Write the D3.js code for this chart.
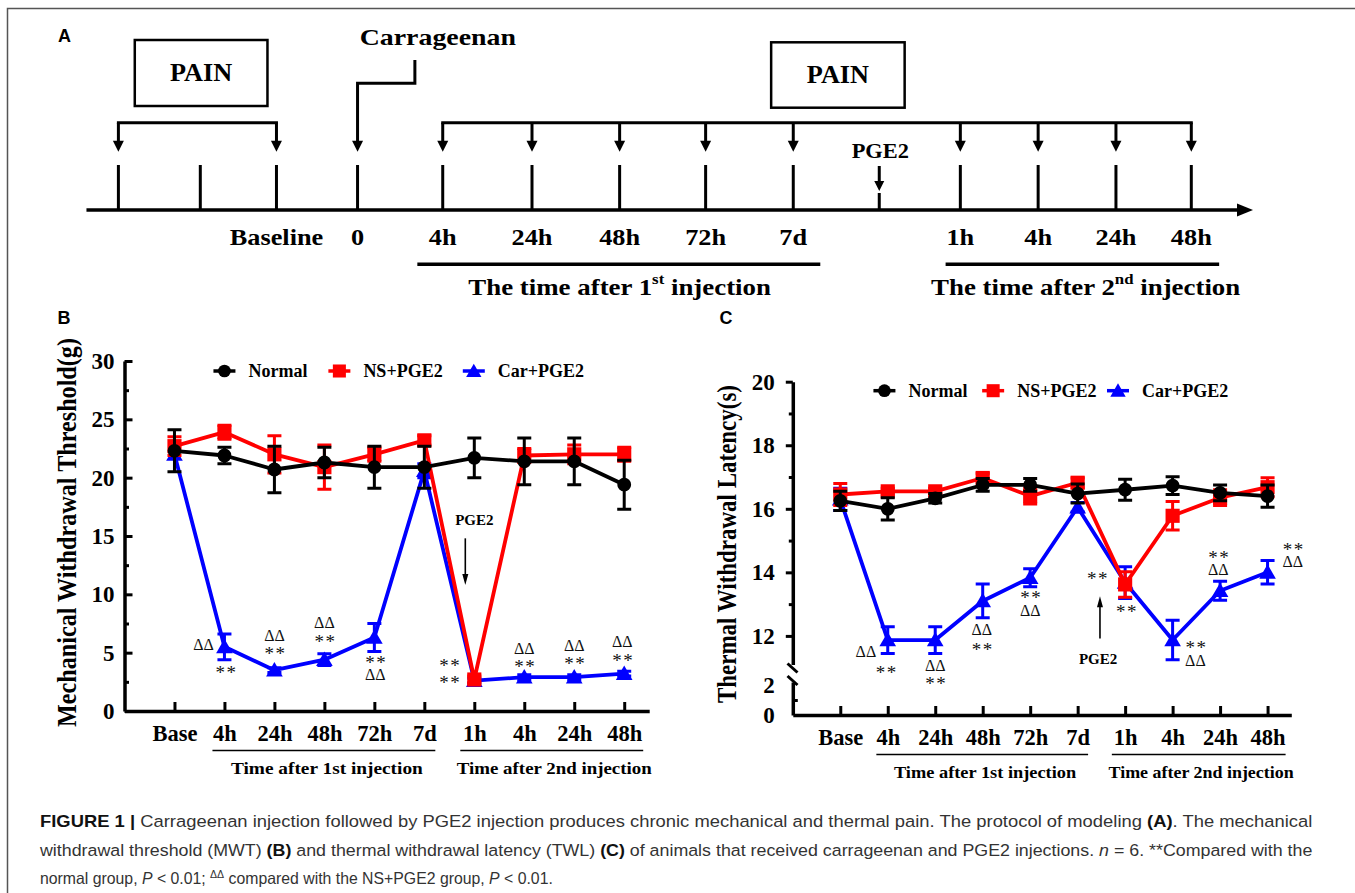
<!DOCTYPE html>
<html>
<head>
<meta charset="utf-8">
<script src="https://cdn.jsdelivr.net/npm/d3@7"></script>
<style>
  body { margin: 0; background: #fff; }
  svg { display: block; }
</style>
</head>
<body>
<div id="figure"></div>
<script>

// ---- data ----
var categories = ["Base", "4h", "24h", "48h", "72h", "7d", "1h", "4h", "24h", "48h"];
var groupNames = ["Normal", "NS+PGE2", "Car+PGE2"];
var injectionGroups = ["Time after 1st injection", "Time after 2nd injection"];

// mechanical withdrawal threshold (g)
var mwtNormal = [22.3, 21.9, 20.7, 21.3, 20.9, 20.9, 21.7, 21.4, 21.4, 19.4];
var mwtNormalErr = [1.8, 0.7, 2.0, 1.3, 1.8, 1.8, 1.7, 2.0, 2.0, 2.1];
var mwtNS = [22.7, 23.9, 22.0, 20.9, 22.0, 23.2, 2.7, 21.9, 22.0, 22.0];
var mwtNSErr = [0.8, 0.6, 1.6, 1.9, 0.6, 0.4, 0.3, 0.6, 0.8, 0.6];
var mwtCar = [22.0, 5.5, 3.5, 4.4, 6.3, 20.6, 2.6, 2.9, 2.9, 3.2];
var mwtCarErr = [0, 1.1, 0.2, 0.5, 1.2, 0.6, 0.2, 0.2, 0.2, 0.2];
var mwtTicks = [0, 5, 10, 15, 20, 25, 30];
// [category position, value, mark]
var mwtMarks = [
  [0.58, 5.66, "ΔΔ"], [1.02, 3.5, "**"], [2, 6.43, "ΔΔ"], [2, 5.14, "**"],
  [3, 7.57, "ΔΔ"], [3, 6.15, "**"], [4.02, 4.4, "**"], [4.02, 3.12, "ΔΔ"],
  [5.5, 4.09, "**"], [5.5, 2.66, "**"], [7, 5.35, "ΔΔ"], [7, 4.05, "**"],
  [8, 5.58, "ΔΔ"], [8, 4.27, "**"], [8.96, 5.9, "ΔΔ"], [8.96, 4.57, "**"]
];

// thermal withdrawal latency (s)
var twlNormal = [16.25, 16.0, 16.33, 16.75, 16.75, 16.48, 16.6, 16.73, 16.5, 16.4];
var twlNormalErr = [0.3, 0.35, 0.15, 0.2, 0.2, 0.3, 0.33, 0.28, 0.25, 0.35];
var twlNS = [16.45, 16.55, 16.55, 16.97, 16.4, 16.82, 13.62, 15.78, 16.35, 16.68];
var twlNSErr = [0.35, 0.1, 0.1, 0.15, 0.25, 0.15, 0.4, 0.45, 0.25, 0.3];
var twlCar = [16.3, 11.87, 11.87, 13.1, 13.83, 16.05, 13.68, 11.87, 13.42, 14.0];
var twlCarErr = [0.35, 0.42, 0.42, 0.53, 0.28, 0.15, 0.5, 0.62, 0.3, 0.37];
var twlTicksUpper = [12, 14, 16, 18, 20];
var twlTicksLower = [0, 2];
var twlMarks = [
  [0.54, 11.5, "ΔΔ"], [0.96, 10.94, "**"], [2, 11.05, "ΔΔ"], [2, 10.57, "**"],
  [2.98, 12.18, "ΔΔ"], [2.98, 11.65, "**"], [4, 13.27, "**"], [4, 12.79, "ΔΔ"],
  [5.41, 13.88, "**"], [6.02, 12.83, "**"], [7.48, 11.7, "**"], [7.48, 11.22, "ΔΔ"],
  [7.96, 14.54, "**"], [7.96, 14.07, "ΔΔ"], [9.53, 14.8, "**"], [9.53, 14.33, "ΔΔ"]
];

// protocol timeline (panel A)
var timelineLabels = ["", "", "Baseline", "0", "4h", "24h", "48h", "72h", "7d", "", "1h", "4h", "24h", "48h"];
var timelineSlots = [0, 1, 1.93, 2.92, 3.96, 5.05, 6.12, 7.17, 8.24, 9.29, 10.28, 11.23, 12.18, 13.1];
var baselineTests = [0, 2];
var painTests = [4, 5, 6, 7, 8, 10, 11, 12, 13];
var carrageenanAt = 3;
var pge2At = 9;

var serif = "'Liberation Serif', 'Times New Roman', serif";
var sans = "'Liberation Sans', Arial, sans-serif";
var colors = ["#000000", "#ff0000", "#0000ff"];

var svg = d3.select("#figure")
  .append("svg")
  .attr("width", 1355)
  .attr("height", 893);

// figure frame
svg.append("path")
  .attr("d", "M7.5,893 L7.5,8.5 L1355,8.5")
  .attr("fill", "none")
  .attr("stroke", "#555")
  .attr("stroke-width", 1.5);

function panelLetter(x, y, s) {
  svg.append("text")
    .attr("x", x).attr("y", y)
    .attr("font-family", sans)
    .attr("font-weight", "bold")
    .attr("font-size", 18)
    .attr("text-anchor", "middle")
    .attr("dominant-baseline", "central")
    .text(s);
}
panelLetter(64.5, 36, "A");
panelLetter(64, 318, "B");
panelLetter(726, 318, "C");

function arrowHead(g, x, y, dir, w, h) {
  // dir: 1 = points down, -1 = points up, tip at (x, y)
  g.append("path")
    .attr("d", "M" + x + "," + y + " L" + (x - w / 2) + "," + (y - dir * h) + " L" + (x + w / 2) + "," + (y - dir * h) + " Z")
    .attr("fill", "#000");
}

// ---------- panel A ----------
(function () {
  var g = svg.append("g");
  var sx = 1.12;
  var x = d3.scaleLinear().domain([0, 13.1]).range([118.4, 1191.3]);
  var lineY = 210, tickTop = 165, bracketY = 122.7, arrowTip = 151.7;

  function label(px, py, s, size, stretch) {
    return g.append("text")
      .attr("transform", "translate(" + px + "," + py + ") scale(" + (stretch || sx) + ",1)")
      .attr("font-family", serif)
      .attr("font-weight", "bold")
      .attr("font-size", size)
      .attr("text-anchor", "middle")
      .attr("dominant-baseline", "central")
      .text(s);
  }

  // main time line with arrow
  g.append("line")
    .attr("x1", x(-0.39)).attr("x2", 1240)
    .attr("y1", lineY).attr("y2", lineY)
    .attr("stroke", "#000").attr("stroke-width", 3.5);
  g.append("path")
    .attr("d", "M1253," + lineY + " L1237," + (lineY - 6.5) + " L1237," + (lineY + 6.5) + " Z")
    .attr("fill", "#000");

  // ticks
  timelineSlots.forEach(function (s, i) {
    var top = i === pge2At ? 193 : tickTop;
    g.append("line")
      .attr("x1", x(s)).attr("x2", x(s))
      .attr("y1", top).attr("y2", lineY)
      .attr("stroke", "#000").attr("stroke-width", 3);
    if (timelineLabels[i]) label(x(s), 237.3, timelineLabels[i], 23.5);
  });

  // test brackets
  [baselineTests, painTests].forEach(function (set) {
    var x0 = x(timelineSlots[set[0]]), x1 = x(timelineSlots[set[set.length - 1]]);
    g.append("line")
      .attr("x1", x0 - 1.5).attr("x2", x1 + 1.5)
      .attr("y1", bracketY).attr("y2", bracketY)
      .attr("stroke", "#000").attr("stroke-width", 3);
    set.forEach(function (k) {
      var px = x(timelineSlots[k]);
      g.append("line")
        .attr("x1", px).attr("x2", px)
        .attr("y1", bracketY).attr("y2", arrowTip - 8)
        .attr("stroke", "#000").attr("stroke-width", 3);
      arrowHead(g, px, arrowTip, 1, 11, 11);
    });
  });

  // carrageenan elbow arrow
  var cx = x(timelineSlots[carrageenanAt]);
  var elbowX = x(3.62);
  g.append("path")
    .attr("d", "M" + elbowX + ",60 L" + elbowX + ",83.3 L" + cx + ",83.3 L" + cx + "," + (arrowTip - 8))
    .attr("fill", "none").attr("stroke", "#000").attr("stroke-width", 3);
  arrowHead(g, cx, arrowTip, 1, 11, 11);
  label(x(3.9), 37, "Carrageenan", 24, 1.16);

  // PGE2 arrow
  var px2 = x(timelineSlots[pge2At]);
  g.append("line")
    .attr("x1", px2).attr("x2", px2).attr("y1", 166).attr("y2", 183)
    .attr("stroke", "#000").attr("stroke-width", 3);
  arrowHead(g, px2, 191, 1, 10, 10);
  label(px2 + 1, 151.7, "PGE2", 20);

  // PAIN boxes
  [[0.2, 1.82, 40, 106], [7.97, 9.6, 42.3, 107.7]].forEach(function (b) {
    g.append("rect")
      .attr("x", x(b[0])).attr("y", b[2])
      .attr("width", x(b[1]) - x(b[0])).attr("height", b[3] - b[2])
      .attr("fill", "none").attr("stroke", "#000").attr("stroke-width", 2.5);
    label((x(b[0]) + x(b[1])) / 2, (b[2] + b[3]) / 2, "PAIN", 25, 1.05);
  });

  // injection periods
  [[3.65, 8.57, 6.12, "1", "st"], [10.1, 13.44, 11.81, "2", "nd"]].forEach(function (p) {
    g.append("line")
      .attr("x1", x(p[0])).attr("x2", x(p[1]))
      .attr("y1", 264.3).attr("y2", 264.3)
      .attr("stroke", "#000").attr("stroke-width", 3.5);
    var t = label(x(p[2]), 286.7, "", 24);
    t.append("tspan").text("The time after " + p[3]);
    t.append("tspan").attr("font-size", 15).attr("dy", -8).text(p[4]);
    t.append("tspan").attr("dy", 8).text(" injection");
  });
})();

// ---------- panels B and C ----------
function drawPanel(cfg) {
  var g = svg.append("g");
  var x = d3.scaleLinear().domain([-1, 9.5]).range([cfg.left, cfg.right]);
  var unit = x(1) - x(0);
  var y = cfg.y;
  var base = cfg.baseY;

  // x axis
  var xAxis = g.append("g")
    .attr("transform", "translate(0," + base + ")")
    .call(d3.axisBottom(x)
      .tickValues(d3.range(categories.length))
      .tickFormat(function (i) { return categories[i]; })
      .tickSize(-9)
      .tickSizeOuter(0)
      .tickPadding(14));
  styleAxis(xAxis, 22.5);

  // y axis
  cfg.yAxes(g, styleAxis);

  // injection period labels
  [[0.76, 5.22, 3.05, 3.84], [5.72, 9.38, 7.6, 3.9]].forEach(function (p, k) {
    g.append("line")
      .attr("x1", x(p[0])).attr("x2", x(p[1]))
      .attr("y1", base + 39.5).attr("y2", base + 39.5)
      .attr("stroke", "#000").attr("stroke-width", 1.6);
    g.append("text")
      .attr("x", x(p[2])).attr("y", base + 57)
      .attr("font-family", serif).attr("font-weight", "bold")
      .attr("font-size", 17)
      .attr("text-anchor", "middle")
      .attr("dominant-baseline", "central")
      .attr("textLength", p[3] * unit)
      .attr("lengthAdjust", "spacingAndGlyphs")
      .text(injectionGroups[k]);
  });

  // axis title
  g.append("text")
    .attr("transform", "translate(" + cfg.titleX + "," + cfg.titleY + ") rotate(-90) scale(1,1.12)")
    .attr("font-family", serif).attr("font-weight", "bold")
    .attr("font-size", 24)
    .attr("text-anchor", "middle")
    .attr("dominant-baseline", "central")
    .attr("textLength", cfg.titleLen)
    .attr("lengthAdjust", "spacingAndGlyphs")
    .text(cfg.title);

  // series: blue, then red, then black on top
  var symbols = [d3.symbolCircle, d3.symbolSquare, d3.symbolTriangle];
  var sizes = [150, 200, 120];
  var line = d3.line()
    .x(function (d, i) { return x(i); })
    .y(function (d) { return y(d); });

  [2, 1, 0].forEach(function (k) {
    var vals = cfg.series[k][0], errs = cfg.series[k][1];
    var sg = g.append("g");
    sg.append("path")
      .datum(vals)
      .attr("d", line)
      .attr("fill", "none")
      .attr("stroke", colors[k])
      .attr("stroke-width", 3.8)
      .attr("stroke-linejoin", "round");
    vals.forEach(function (v, i) {
      if (errs[i] > 0) {
        var y0 = y(v - errs[i]), y1 = y(v + errs[i]);
        sg.append("path")
          .attr("d", "M" + x(i) + "," + y0 + " L" + x(i) + "," + y1 +
            " M" + (x(i) - 7) + "," + y0 + " L" + (x(i) + 7) + "," + y0 +
            " M" + (x(i) - 7) + "," + y1 + " L" + (x(i) + 7) + "," + y1)
          .attr("stroke", colors[k])
          .attr("stroke-width", 3)
          .attr("fill", "none");
      }
      sg.append("path")
        .attr("d", d3.symbol(symbols[k], sizes[k]))
        .attr("transform", "translate(" + x(i) + "," + (y(v) + (k === 2 ? 1.5 : 0)) + ")")
        .attr("fill", colors[k]);
    });
  });

  // legend
  cfg.legendAt.forEach(function (pos, k) {
    var lx = x(pos), ly = cfg.legendY;
    g.append("line")
      .attr("x1", lx - 11).attr("x2", lx + 11)
      .attr("y1", ly).attr("y2", ly)
      .attr("stroke", colors[k]).attr("stroke-width", 3.5);
    g.append("path")
      .attr("d", d3.symbol(symbols[k], sizes[k] * 0.85))
      .attr("transform", "translate(" + lx + "," + (ly + (k === 2 ? 1.5 : 0)) + ")")
      .attr("fill", colors[k]);
    g.append("text")
      .attr("x", lx + 24).attr("y", ly)
      .attr("font-family", serif).attr("font-weight", "bold")
      .attr("font-size", 18)
      .attr("dominant-baseline", "central")
      .text(groupNames[k]);
  });

  // significance marks
  cfg.marks.forEach(function (m) {
    var isStar = m[2] === "**";
    g.append("text")
      .attr("x", x(m[0]) + (isStar ? 1 : 0)).attr("y", y(m[1]))
      .attr("dy", isStar ? "0.47em" : "0.33em")
      .attr("font-family", serif)
      .attr("font-size", isStar ? 19 : 16)
      .attr("letter-spacing", isStar ? 1.5 : 0)
      .attr("text-anchor", "middle")
      .attr("fill", "#111")
      .text(m[2]);
  });

  // PGE2 arrow
  var p = cfg.pge2;
  var ax = x(p.at), yFrom = y(p.from), yTo = y(p.to);
  var dir = yTo > yFrom ? 1 : -1;
  g.append("line")
    .attr("x1", ax).attr("x2", ax)
    .attr("y1", yFrom).attr("y2", yTo - dir * 8)
    .attr("stroke", "#000").attr("stroke-width", 1.6);
  arrowHead(g, ax, yTo, dir, 6, 11);
  g.append("text")
    .attr("x", x(p.labelAt)).attr("y", y(p.labelValue))
    .attr("font-family", serif).attr("font-weight", "bold")
    .attr("font-size", 15)
    .attr("text-anchor", "middle")
    .attr("dominant-baseline", "central")
    .text("PGE2");
}

function styleAxis(sel, size) {
  sel.select(".domain").attr("stroke", "#000").attr("stroke-width", 3.5);
  sel.selectAll(".tick line").attr("stroke", "#000").attr("stroke-width", 3);
  sel.selectAll(".tick text")
    .attr("fill", "#000")
    .attr("font-family", serif)
    .attr("font-weight", "bold")
    .attr("font-size", size);
}

// panel B
var yB = d3.scaleLinear().domain([0, 30]).range([711, 361]);
drawPanel({
  left: 124.5, right: 649.2, baseY: 711,
  y: yB,
  yAxes: function (g, style) {
    var ax = g.append("g")
      .attr("transform", "translate(124.5,0)")
      .call(d3.axisLeft(yB).tickValues(mwtTicks).tickFormat(d3.format("d"))
        .tickSize(-8).tickSizeOuter(0).tickPadding(10));
    style(ax, 23);
    var minor = g.append("g")
      .attr("transform", "translate(124.5,0)")
      .call(d3.axisLeft(yB).tickValues(d3.range(2.5, 30, 5)).tickSize(-4.5).tickFormat(""));
    style(minor, 22);
    minor.select(".domain").remove();
  },
  title: "Mechanical Withdrawal Threshold(g)",
  titleX: 67, titleY: 532.5, titleLen: 389,
  series: [[mwtNormal, mwtNormalErr], [mwtNS, mwtNSErr], [mwtCar, mwtCarErr]],
  legendAt: [1.0, 3.3, 5.99], legendY: 371,
  marks: mwtMarks,
  pge2: { at: 5.82, from: 14.8, to: 10.8, labelAt: 6, labelValue: 16.4 }
});

// panel C (broken y axis)
var yCUp = d3.scaleLinear().domain([11.1, 20]).range([664.5, 381.7]);
var yCLow = d3.scaleLinear().domain([0, 2.2]).range([715, 682]);
drawPanel({
  left: 792.8, right: 1291.3, baseY: 715,
  y: yCUp,
  yAxes: function (g, style) {
    var up = g.append("g")
      .attr("transform", "translate(792.8,0)")
      .call(d3.axisLeft(yCUp).tickValues(twlTicksUpper).tickFormat(d3.format("d"))
        .tickSize(7).tickSizeOuter(0).tickPadding(11));
    style(up, 23);
    var upMinor = g.append("g")
      .attr("transform", "translate(792.8,0)")
      .call(d3.axisLeft(yCUp).tickValues([13, 15, 17, 19]).tickSize(4).tickFormat(""));
    style(upMinor, 22);
    upMinor.select(".domain").remove();
    var low = g.append("g")
      .attr("transform", "translate(792.8,0)")
      .call(d3.axisLeft(yCLow).tickValues(twlTicksLower).tickFormat(d3.format("d"))
        .tickSize(0).tickSizeOuter(0).tickPadding(18));
    style(low, 23);
    var lowMinor = g.append("g")
      .attr("transform", "translate(792.8,0)")
      .call(d3.axisLeft(yCLow).tickValues([1]).tickSize(-5).tickFormat(""));
    style(lowMinor, 22);
    lowMinor.select(".domain").remove();
    // break marks
    [[yCUp(11.1) - 1, yCUp(11.1) + 8], [yCLow(2.2) - 6, yCLow(2.2) + 3]].forEach(function (b) {
      g.append("line")
        .attr("x1", 787.5).attr("x2", 797.5)
        .attr("y1", b[0]).attr("y2", b[1])
        .attr("stroke", "#000").attr("stroke-width", 3);
    });
  },
  title: "Thermal Withdrawal Latency(s)",
  titleX: 727, titleY: 544, titleLen: 318,
  series: [[twlNormal, twlNormalErr], [twlNS, twlNSErr], [twlCar, twlCarErr]],
  legendAt: [0.93, 3.22, 5.85], legendY: 390.7,
  marks: twlMarks,
  pge2: { at: 5.47, from: 11.92, to: 13.25, labelAt: 5.43, labelValue: 11.26 }
});

// ---------- caption ----------
var captionLines = [
  [{ t: "FIGURE 1 | ", b: 1 }, { t: "Carrageenan injection followed by PGE2 injection produces chronic mechanical and thermal pain. The protocol of modeling " },
   { t: "(A)", b: 1 }, { t: ". The mechanical" }],
  [{ t: "withdrawal threshold (MWT) " }, { t: "(B)", b: 1 }, { t: " and thermal withdrawal latency (TWL) " }, { t: "(C)", b: 1 },
   { t: " of animals that received carrageenan and PGE2 injections. " }, { t: "n", i: 1 }, { t: " = 6. **Compared with the" }],
  [{ t: "normal group, " }, { t: "P", i: 1 }, { t: " < 0.01; " }, { t: "ΔΔ", sup: 1 }, { t: " compared with the NS+PGE2 group, " },
   { t: "P", i: 1 }, { t: " < 0.01." }]
];
var captionWidths = [1273, 1274, 513];
var captionBaselines = [827, 856, 884];

captionLines.forEach(function (parts, li) {
  var lg = svg.append("g");
  var t = lg.append("text")
    .attr("x", 0).attr("y", 0)
    .attr("font-family", sans)
    .attr("font-size", 16.5)
    .attr("fill", "#333");
  var shifted = false;
  parts.forEach(function (p) {
    var s = t.append("tspan").text(p.t);
    if (p.b) s.attr("font-weight", "bold").attr("fill", "#111");
    if (p.i) s.attr("font-style", "italic");
    if (p.sup) { s.attr("font-size", 11).attr("dy", -6); shifted = true; }
    else if (shifted) { s.attr("dy", 6); shifted = false; }
  });
  // squeeze the line to the width of the condensed caption font
  var natural = t.node().getComputedTextLength();
  lg.attr("transform", "translate(40," + captionBaselines[li] + ") scale(" + (captionWidths[li] / natural) + ",1)");
});

</script>
</body>
</html>
